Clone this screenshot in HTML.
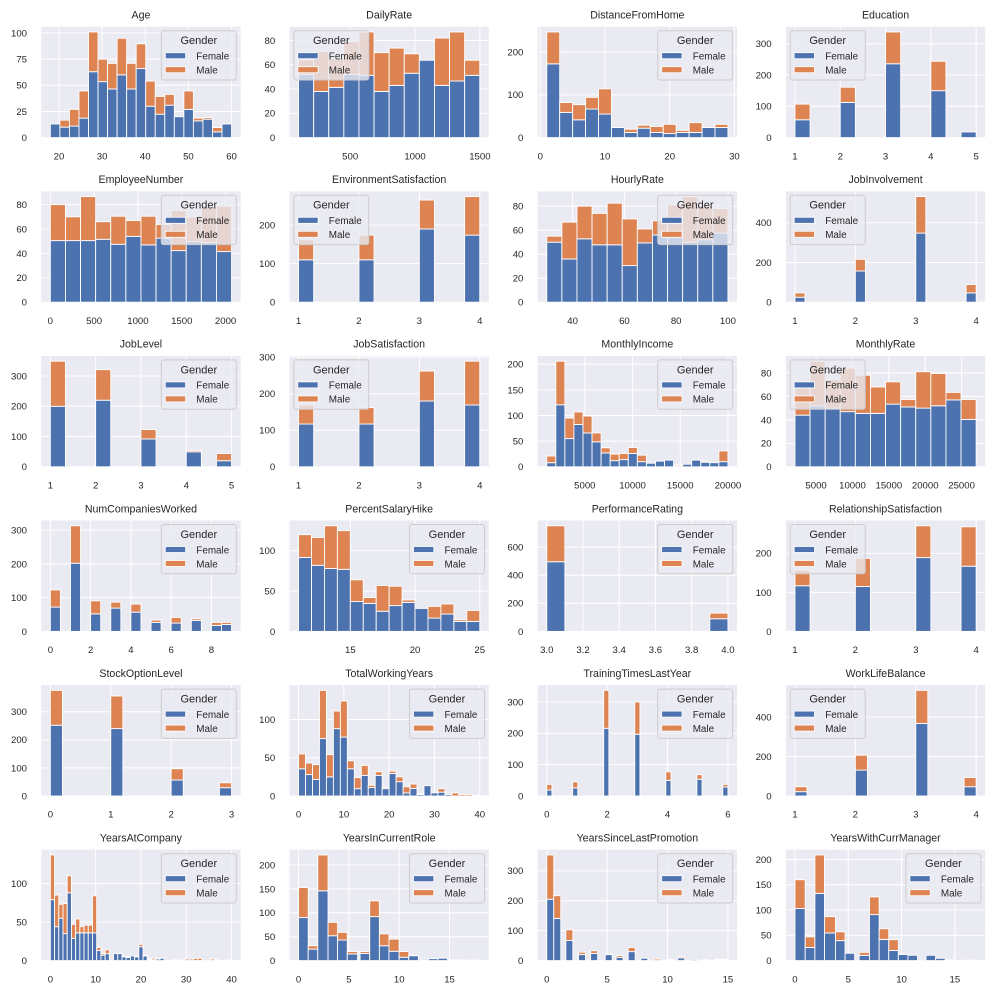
<!DOCTYPE html>
<html><head><meta charset="utf-8"><style>
html,body{margin:0;padding:0;background:#fff;}
svg{display:block;}
text{font-family:"Liberation Sans",Arial,sans-serif;fill:#262626;}
</style></head><body>
<svg id="s" width="994" height="994" viewBox="0 0 994 994" xmlns="http://www.w3.org/2000/svg"></svg>
<script>
const P=[
{t:'Age',r:0,c:0,x0:18,x1:60,nb:19,lg:'R',xt:[20,30,40,50,60],yt:[0,25,50,75,100],
 f:[13,10,11,18.6,63,53.5,46.5,60,46.5,66,30,22.4,31,20,27,16,17.6,5.5,13],
 tt:[13,16.7,27,44.6,101,75,71,95,71,89.7,54,39.4,41.3,20,44.6,18.6,19.2,9.6,13]},
{t:'DailyRate',r:0,c:1,x0:102,x1:1499,nb:12,lg:'L',xt:[500,1000,1500],yt:[0,20,40,60,80],
 f:[52,38,41.4,52,51.3,38,43,53,63.7,43,46.6,51.3],
 tt:[64,71,65,79,87,70,73.7,69,63.7,82,87,63.7]},
{t:'DistanceFromHome',r:0,c:2,x0:1,x1:29,nb:14,lg:'R',xt:[0,10,20,30],yt:[0,100,200],
 f:[172.5,59,41.6,66.7,55,23.5,12,22,12,9.4,12,12,23.5,23.5],
 tt:[247,82,77,94,114,23.5,19.6,29,26,31,17,35,23.5,31]},
{t:'Education',r:0,c:3,x0:1,x1:5,nb:12,lg:'L',xt:[1,2,3,4,5],yt:[0,100,200,300],
 s:{0:[57,107],3:[112.5,161],6:[236,337.6],9:[150,244],11:[18,18]}},
{t:'EmployeeNumber',r:1,c:0,x0:1,x1:2068,nb:12,lg:'R',xt:[0,500,1000,1500,2000],yt:[0,20,40,60,80],
 f:[50.5,50.5,50.5,51.6,47.5,54,47,52.5,42.3,49.7,49,41.5],
 tt:[80,70,86.6,66,70.5,67,70.5,63.7,75,70,78,78.6]},
{t:'EnvironmentSatisfaction',r:1,c:1,x0:1,x1:4,nb:12,lg:'L',xt:[1,2,3,4],yt:[0,100,200],
 s:{0:[110,162],4:[110,174],8:[190,265],11:[174,274]}},
{t:'HourlyRate',r:1,c:2,x0:30,x1:100,nb:12,lg:'R',xt:[40,60,80,100],yt:[0,20,40,60,80],
 f:[50,36,52.8,47.8,47.8,30.5,49.4,56,55,50,52,57.5],
 tt:[55,66.7,80,74,82.5,69.4,61,67.8,81,88,80,78]},
{t:'JobInvolvement',r:1,c:3,x0:1,x1:4,nb:18,lg:'L',xt:[1,2,3,4],yt:[0,200,400],
 s:{0:[25,47],6:[157,216],12:[348,532],17:[47,89]}},
{t:'JobLevel',r:2,c:0,x0:1,x1:5,nb:12,lg:'R',xt:[1,2,3,4,5],yt:[0,100,200,300],
 s:{0:[200,349],3:[220,321],6:[92,123],9:[49.5,54],11:[20,44]}},
{t:'JobSatisfaction',r:2,c:1,x0:1,x1:4,nb:12,lg:'L',xt:[1,2,3,4],yt:[0,100,200,300],
 s:{0:[117,169],4:[117,162],8:[180,262],11:[169,289]}},
{t:'MonthlyIncome',r:2,c:2,x0:1009,x1:19999,nb:20,lg:'R',xt:[5000,10000,15000,20000],yt:[0,50,100,150,200],
 f:[8,121,55,82.5,66,48.7,27,12,14,26,10,7,11,13,2,5,13,9,8,10],
 tt:[21,206,95,107,99,66,37,24.7,26,37.7,22.7,7,11,13,4,5,13,11,8,31]},
{t:'MonthlyRate',r:2,c:3,x0:2094,x1:26999,nb:12,lg:'L',xt:[5000,10000,15000,20000,25000],yt:[0,20,40,60,80],
 f:[44,52,50,47,45.5,45.5,53.4,51,50,52,57,40.3],
 tt:[67,90,74,84,78,68,72.4,57.4,81,79.5,63.4,57.4]},
{t:'NumCompaniesWorked',r:3,c:0,x0:0,x1:9,nb:18,lg:'R',xt:[0,2,4,6,8],yt:[0,100,200,300],
 s:{0:[72,123],2:[202,313],4:[52,90.6],6:[69,86.7],8:[57,80.8],10:[26.6,33.5],12:[24.6,41.4],14:[32.5,37.4],16:[17.7,26.6],17:[20.7,26.6]}},
{t:'PercentSalaryHike',r:3,c:1,x0:11,x1:25,nb:14,lg:'R',xt:[15,20,25],yt:[0,50,100],
 f:[91.7,82,78,77,37,34.7,25,32,36,28.5,16.5,21.5,12.4,12.4],
 tt:[120,116.5,131,125,64,42,57,56,39,28.5,31,34,14.5,26]},
{t:'PerformanceRating',r:3,c:2,x0:3,x1:4,nb:10,lg:'R',xt:[3,3.2,3.4,3.6,3.8,4],fmt:1,yt:[0,200,400,600],
 s:{0:[496,752],9:[90,130]}},
{t:'RelationshipSatisfaction',r:3,c:3,x0:1,x1:4,nb:12,lg:'L',xt:[1,2,3,4],yt:[0,100,200],
 s:{0:[117,157],4:[115,187],8:[189,270.6],11:[167,268]}},
{t:'StockOptionLevel',r:4,c:0,x0:0,x1:3,nb:15,lg:'R',xt:[0,1,2,3],yt:[0,100,200,300],
 s:{0:[252,376],5:[240,356],10:[57,97],14:[29.6,47]}},
{t:'TotalWorkingYears',r:4,c:1,x0:0,x1:40,nb:26,lg:'R',xt:[0,10,20,30,40],yt:[0,50,100],
 f:[35.6,28,21.7,75,25,88,77,35.6,9.6,27,11,27,9.6,29.6,18.7,4,10,2,13.5,4,5,2,0,0,0,0.5],
 tt:[55,43,41,138,54,111,124,46,24,40,14,31.7,11,32.6,25,12,15.6,3,13.5,4,9.6,2,4,2,2,1]},
{t:'TrainingTimesLastYear',r:4,c:2,x0:0,x1:6,nb:35,lg:'R',xt:[0,2,4,6],yt:[0,100,200,300],
 s:{0:[19,37],5:[26,45],11:[216,337],17:[197,300],23:[50,77],29:[53.5,68],34:[29,37]}},
{t:'WorkLifeBalance',r:4,c:3,x0:1,x1:4,nb:15,lg:'L',xt:[1,2,3,4],yt:[0,200,400],
 s:{0:[22,47],5:[131.5,207],10:[368,536],14:[47,94]}},
{t:'YearsAtCompany',r:5,c:0,x0:0,x1:40,nb:43,lg:'R',xt:[0,10,20,30,40],yt:[0,50,100],
 v:{0:[79,137],1:[44,85],2:[55,73],3:[35,74],4:[88,110],5:[29,47],6:[36,54],7:[36,44],8:[36,46],9:[36,46],10:[36,84],11:[13,17],12:[7,9],13:[9,14],14:[9,9],15:[9,9],16:[5,6],17:[4,5],18:[6,6],19:[5,6],20:[18,21],21:[6,7],22:[1,2],23:[1,3],24:[2,3],25:[3,3],27:[0,1],29:[0,1],30:[0,2],31:[0,2],32:[0,3],33:[0,3],36:[0,2],37:[0,1],40:[0,1]}},
{t:'YearsInCurrentRole',r:5,c:1,xr:[0,18],lg:'R',xt:[0,5,10,15],yt:[0,50,100,150,200],
 bars:[[0,0.96,90,153],[0.96,1.91,24,31],[1.91,2.93,146,221],[2.93,3.88,52,80],[3.88,4.84,43,59],[4.84,5.86,14,19],[6.11,7.07,15,19],[7.07,8.03,92,125],[8.03,8.98,31,56],[8.98,9.99,19.5,45],[9.99,10.95,7,19],[10.95,11.9,10,10],[12.9,13.85,4,4],[13.85,14.8,5,5],[14.8,15.75,1.5,1.5],[15.75,16.7,1,1.5],[17.05,18,1,1]]},
{t:'YearsSinceLastPromotion',r:5,c:2,xr:[0,15],lg:'R',xt:[0,5,10,15],yt:[0,100,200,300],
 bars:[[0,0.58,205,353],[0.58,1.16,141,217],[1.58,2.16,67,103],[2.63,3.21,20,28],[3.63,4.21,24,33],[4.84,5.42,20,22],[5.74,6.32,11,17],[6.74,7.32,30,44],[7.79,8.37,8,8],[8.84,9.42,0,5],[9.9,10.48,2,4],[10.84,11.42,9,13],[11.9,12.48,4,4],[12.9,13.48,2,3],[13.9,14.42,3,5],[14.42,15,3,5]]},
{t:'YearsWithCurrManager',r:5,c:3,xr:[0,17],lg:'R',xt:[0,5,10,15],yt:[0,50,100,150,200],
 bars:[[0,0.96,103,160],[0.96,1.87,26,47],[1.87,2.77,133,209],[2.77,3.8,54.6,87],[3.8,4.7,39.5,57],[4.7,5.6,14.5,14.5],[6.02,6.99,10.5,16.4],[6.99,7.9,91,126],[7.9,8.8,42,63],[8.8,9.7,20,41.4],[9.7,10.6,12,12],[10.6,11.5,10.5,10.5],[12.3,13.2,10.5,10.5],[13.2,14.1,4.6,4.6],[14.1,15,1,1.5],[15.9,16.8,1,1]]}
];
const CF='#4C72B0',CM='#DD8452';
let s='';
const W=199.3,H=110.9;
P.forEach(p=>{
 const L=41.3+248.2*p.c, T=26.7+164.6*p.r, B=T+H;
 let bars=[],xr;
 if(p.bars){bars=p.bars;xr=p.xr;}
 else{
  xr=[p.x0,p.x1];const w=(p.x1-p.x0)/p.nb;
  let f=new Array(p.nb).fill(0),t=new Array(p.nb).fill(0);
  if(p.f){f=p.f;t=p.tt;}
  else if(p.s){for(const k in p.s){f[k]=p.s[k][0];t[k]=p.s[k][1];}}
  else if(p.v){for(const k in p.v){let i=Math.min(p.nb-1,Math.floor(k/w));f[i]+=p.v[k][0];t[i]+=p.v[k][1];}}
  for(let i=0;i<p.nb;i++)bars.push([p.x0+i*w,p.x0+(i+1)*w,f[i],t[i]]);
 }
 const sp=xr[1]-xr[0],xmin=xr[0]-0.05*sp,xmax=xr[1]+0.05*sp;
 const ymax=Math.max(...bars.map(b=>b[3]))*1.05;
 const X=v=>L+(v-xmin)/(xmax-xmin)*W, Y=v=>B-v/ymax*H;
 s+=`<rect x="${L}" y="${T}" width="${W}" height="${H}" fill="#EAEAF2"/>`;
 p.xt.forEach(v=>{const x=X(v).toFixed(2);s+=`<line x1="${x}" x2="${x}" y1="${T}" y2="${B}" stroke="#fff" stroke-width="1"/>`;});
 p.yt.forEach(v=>{if(v>ymax)return;const y=Y(v).toFixed(2);s+=`<line x1="${L}" x2="${L+W}" y1="${y}" y2="${y}" stroke="#fff" stroke-width="1"/>`;});
 bars.forEach(b=>{
  const x=X(b[0]),w=X(b[1])-x;
  if(b[2]>0)s+=`<rect x="${x.toFixed(2)}" y="${Y(b[2]).toFixed(2)}" width="${w.toFixed(2)}" height="${(B-Y(b[2])).toFixed(2)}" fill="${CF}" stroke="#fff" stroke-width="0.9"/>`;
  if(b[3]>b[2])s+=`<rect x="${x.toFixed(2)}" y="${Y(b[3]).toFixed(2)}" width="${w.toFixed(2)}" height="${(Y(b[2])-Y(b[3])).toFixed(2)}" fill="${CM}" stroke="#fff" stroke-width="0.9"/>`;
 });
 // legend
 const lx=p.lg==='L'?L+4.3:L+W-4.3-75, ly=T+4;
 s+=`<rect x="${lx}" y="${ly}" width="75" height="49.3" rx="2.5" fill="rgba(234,234,242,0.8)" stroke="#CCCCCC" stroke-width="1"/>`;
 s+=`<text x="${lx+37.5}" y="${ly+13.4}" font-size="11" text-anchor="middle">Gender</text>`;
 s+=`<rect x="${lx+4}" y="${ly+22}" width="20.3" height="6" fill="${CF}" stroke="#fff" stroke-width="0.8"/>`;
 s+=`<rect x="${lx+4}" y="${ly+36}" width="20.3" height="6" fill="${CM}" stroke="#fff" stroke-width="0.8"/>`;
 s+=`<text x="${lx+35}" y="${ly+28.8}" font-size="9.9">Female</text>`;
 s+=`<text x="${lx+35}" y="${ly+42.8}" font-size="9.9">Male</text>`;
 // ticks
 p.xt.forEach(v=>{s+=`<text x="${X(v).toFixed(2)}" y="${(B+21.7).toFixed(2)}" font-size="9.6" text-anchor="middle">${p.fmt?v.toFixed(1):v}</text>`;});
 p.yt.forEach(v=>{if(v>ymax)return;s+=`<text x="${(L-14.3).toFixed(2)}" y="${(Y(v)+3.4).toFixed(2)}" font-size="9.6" text-anchor="end">${v}</text>`;});
 s+=`<text x="${(L+W/2).toFixed(2)}" y="${(T-8.2).toFixed(2)}" font-size="10.6" text-anchor="middle">${p.t}</text>`;
});
document.getElementById('s').innerHTML=s;
</script>
</body></html>
